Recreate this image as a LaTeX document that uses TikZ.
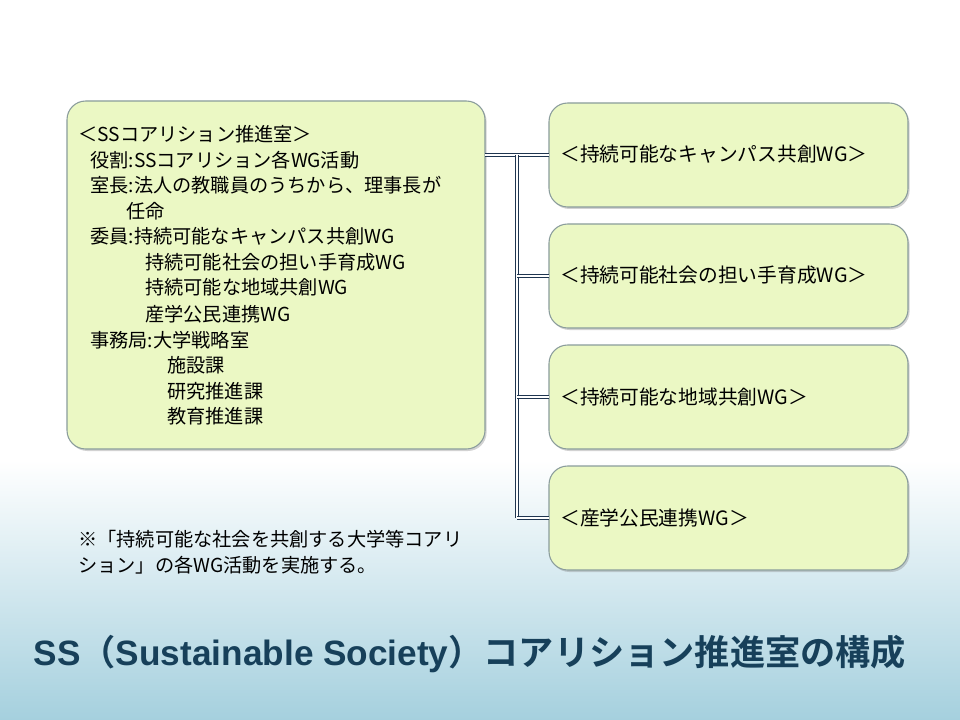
\documentclass[tikz,border=0pt]{standalone}
\usepackage{fontspec}
\setmainfont{Noto Sans CJK JP}
\newfontfamily\titlefont{Liberation Sans}[BoldFont={Liberation Sans Bold}]
\newfontfamily\cjkbold{Noto Sans CJK JP Bold}
\usetikzlibrary{positioning, shadows}
\definecolor{boxfill}{HTML}{EBF8C4}
\definecolor{boxline}{HTML}{8A9C9C}
\definecolor{navy}{HTML}{1F3550}
\definecolor{titleblue}{HTML}{17405A}
\definecolor{paleblue}{HTML}{A5D0DE}
\tikzset{
  wgbox/.style={draw=boxline, fill=boxfill, rounded corners=14pt, line width=0.8pt,
    drop shadow={shadow xshift=1.2pt, shadow yshift=-1.5pt, opacity=0.35}},
  line/.style={anchor=base west, inner sep=0pt, font=\fontsize{14.4}{16}\selectfont},
  wglabel/.style={anchor=base west, inner sep=0pt, font=\fontsize{14.8}{16}\selectfont},
  dbl/.style={double=white, double distance=1.3pt, draw=navy, line width=0.8pt}
}
\begin{document}
\begin{tikzpicture}[x=0.75pt, y=-0.75pt]
    \useasboundingbox (0,0) rectangle (960,720);
    \fill[white] (0,0) rectangle (960,460);
    \shade[top color=white, bottom color=paleblue] (0,460) rectangle (960,720);

    % main box
    \draw[wgbox] (67,101) rectangle (485,449);
    \coordinate (mainr) at (485,155);
    \node[line] (l1) at (78,142) {＜SSコアリション推進室＞};
    \node[line] (l2) at (90,168) {役割:SSコアリション各WG活動};
    \node[line] (l3) at (90,193) {室長:法人の教職員のうちから、理事長が};
    \node[line] (l4) at (126,219) {任命};
    \node[line] (l5) at (90,244) {委員:持続可能なキャンパス共創WG};
    \node[line] (l6) at (145,270) {持続可能社会の担い手育成WG};
    \node[line] (l7) at (145,295) {持続可能な地域共創WG};
    \node[line] (l8) at (145,321) {産学公民連携WG};
    \node[line] (l9) at (90,347) {事務局:大学戦略室};
    \node[line] (l10) at (167,372) {施設課};
    \node[line] (l11) at (167,398) {研究推進課};
    \node[line] (l12) at (167,423) {教育推進課};

    % WG boxes
    \foreach \name/\top/\txt in {wga/103/＜持続可能なキャンパス共創WG＞,
                                 wgb/224/＜持続可能社会の担い手育成WG＞,
                                 wgc/345/＜持続可能な地域共創WG＞,
                                 wgd/466/＜産学公民連携WG＞}{
      \draw[wgbox] (549,\top) rectangle (908,\top+104);
      \coordinate (\name) at (549,\top+52);
      \node[wglabel] at (560,\top+59) {\txt};
    }

    % connectors
    \coordinate (trunktop) at (517,155);
    \coordinate (trunkbot) at (517,518);
    \draw[dbl] (mainr) -- (wga);
    \draw[dbl] (trunktop) -- (trunkbot);
    \draw[dbl] (wgb -| trunktop) -- (wgb);
    \draw[dbl] (wgc -| trunktop) -- (wgc);
    \draw[dbl] (wgd -| trunktop) -- (wgd);

    % note and title
    \node[line] (note1) at (78,546) {※「持続可能な社会を共創する大学等コアリ};
    \node[line] (note2) at (78,572) {ション」の各WG活動を実施する。};
    \node[anchor=base, inner sep=0pt, text=titleblue, font=\fontsize{26.4}{28}\selectfont]
      (title) at (470,665) {{\titlefont\bfseries SS}{\cjkbold （}{\titlefont\bfseries Sustainable Society}{\cjkbold ）コアリション推進室の構成}};
\end{tikzpicture}
\end{document}
